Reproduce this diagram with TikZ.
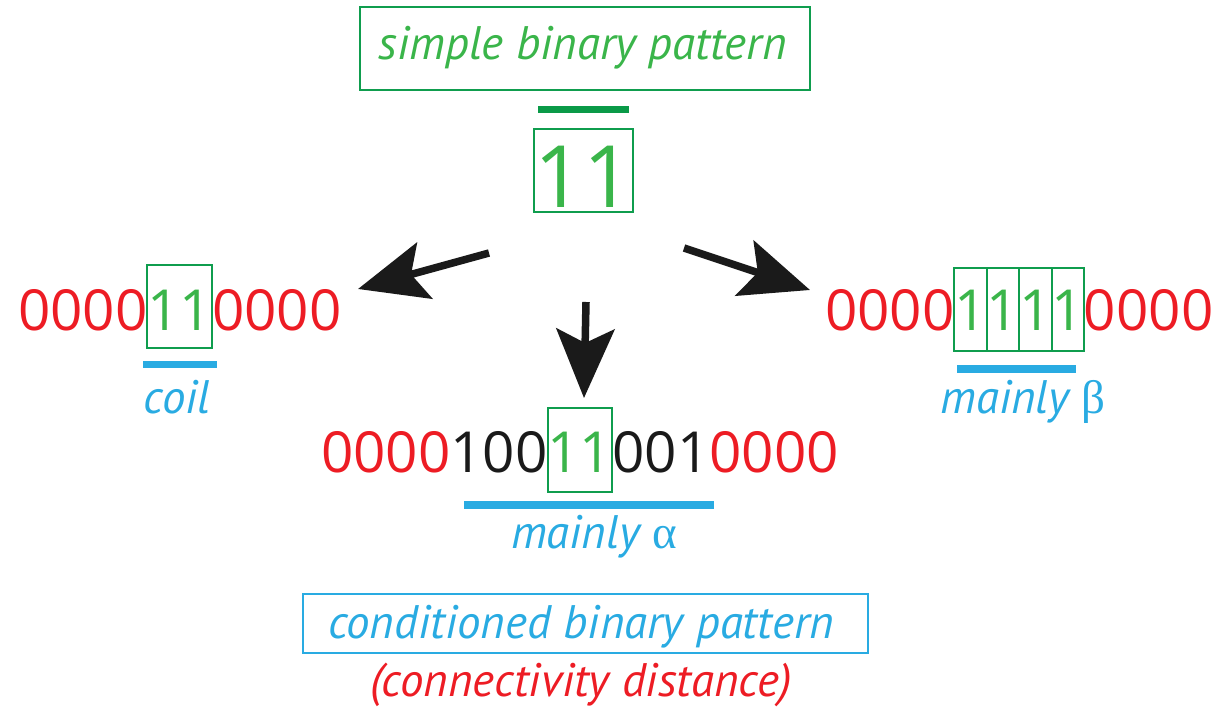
\documentclass[tikz,border=0pt]{standalone}
\usepackage{fontspec}
\setmainfont{PT Sans}
\newfontfamily\digitfont{Open Sans}
\newfontfamily\greekfont{Liberation Serif}
\usetikzlibrary{arrows.meta}
\definecolor{cred}{HTML}{ED1C24}
\definecolor{cgreen}{HTML}{3AB54A}
\definecolor{cbox}{HTML}{0F9D4E}
\definecolor{cbar}{HTML}{0A9A48}
\definecolor{cblue}{HTML}{29ABE2}
\definecolor{cblack}{HTML}{1A1A1A}
\begin{document}
\begin{tikzpicture}[x=1pt,y=-1pt,
  digits/.style={font=\digitfont\fontsize{56.6}{56.6}\selectfont, inner sep=0pt, outer sep=0pt, anchor=base west},
  cell/.style={digits, text=cgreen, draw=cbox, line width=2pt},
  lbl/.style={font=\fontsize{47}{47}\selectfont\itshape, inner sep=0pt, anchor=base},
  frame/.style={draw, line width=2.5pt, inner sep=0pt},
  bar/.style={line width=7.5pt},
  bigarrow/.style={draw=cblack, line width=7.5pt, -{Stealth[length=69pt,width=58pt,inset=14pt]}}
]
\useasboundingbox (0,0) rectangle (1222,708);

% top: simple binary pattern
\node[frame, draw=cbox, minimum width=450pt, minimum height=83pt] (SB) at (585,48.5) {};
\node[lbl, text=cgreen] (SBt) at (582.5,60) {simple binary pattern};
\draw[bar, cbar] (538,109.5) -- (629,109.5);
\node[digits, anchor=base, text=cgreen, draw=cbox, line width=2pt,
      font=\digitfont\fontsize{86}{86}\selectfont, minimum width=91pt,
      text height=79pt, text depth=4pt] (T11) at (583.5,208) {11};

% left string
\node[digits, text=cred] (L1) at (18,330) {0000};
\node[cell, text height=65pt, text depth=18pt] (L2) at (L1.base east) {11};
\node[digits, text=cred] (L3) at (L2.base east) {0000};
\draw[bar, cblue] (143,364.5) -- (217,364.5);
\node[lbl, text=cblue] (Lc) at (177,413) {coil};

% right string
\node[digits, text=cred] (R1) at (825,330) {0000};
\node[cell, text height=62pt, text depth=21pt] (R2) at (R1.base east) {1};
\node[cell, text height=62pt, text depth=21pt] (R3) at (R2.base east) {1};
\node[cell, text height=62pt, text depth=21pt] (R4) at (R3.base east) {1};
\node[cell, text height=62pt, text depth=21pt] (R5) at (R4.base east) {1};
\node[digits, text=cred] (R6) at (R5.base east) {0000};
\draw[bar, cblue] (957,369) -- (1076,369);
\node[lbl, text=cblue] (Rc) at (1023,413) {mainly {\greekfont\upshape β}};

% center string
\node[digits, text=cred] (C1) at (321,472) {0000};
\node[digits, text=cblack] (C2) at (C1.base east) {100};
\node[cell, text height=64pt, text depth=20pt] (C3) at (C2.base east) {11};
\node[digits, text=cblack] (C4) at (C3.base east) {001};
\node[digits, text=cred] (C5) at (C4.base east) {0000};
\draw[bar, cblue] (464,505) -- (714,505);
\node[lbl, text=cblue] (Cc) at (594,548) {mainly {\greekfont\upshape α}};

% bottom: conditioned binary pattern
\node[frame, draw=cblue, minimum width=565pt, minimum height=59pt] (CB) at (585.5,623.5) {};
\node[lbl, text=cblue] (CBt) at (581,638) {conditioned binary pattern};
\node[lbl, text=cred] (CD) at (581,696) {(connectivity distance)};

% arrows
\coordinate (a1s) at (489,253);
\coordinate (a1e) at (358,289);
\coordinate (a2s) at (586,302);
\coordinate (a2e) at (584,398);
\coordinate (a3s) at (684,248);
\coordinate (a3e) at (810,290);
\draw[bigarrow] (a1s) -- (a1e);
\draw[bigarrow] (a2s) -- (a2e);
\draw[bigarrow] (a3s) -- (a3e);
\end{tikzpicture}
\end{document}
